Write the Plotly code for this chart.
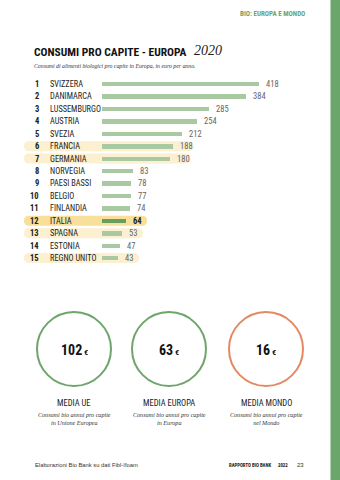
import plotly.graph_objects as go

W, H = 340, 480

ranks = list(range(1, 16))
countries = ["SVIZZERA", "DANIMARCA", "LUSSEMBURGO", "AUSTRIA", "SVEZIA", "FRANCIA",
             "GERMANIA", "NORVEGIA", "PAESI BASSI", "BELGIO", "FINLANDIA", "ITALIA",
             "SPAGNA", "ESTONIA", "REGNO UNITO"]
values = [418, 384, 285, 254, 212, 188, 180, 83, 78, 77, 74, 64, 53, 47, 43]
highlight = ["", "", "", "", "", "light", "light", "", "", "", "", "strong", "light", "", "light"]

avg_values = ["102", "63", "16"]
avg_titles = ["MEDIA UE", "MEDIA EUROPA", "MEDIA MONDO"]
avg_desc = ["Consumi bio annui pro capite<br>in Unione Europea",
            "Consumi bio annui pro capite<br>in Europa",
            "Consumi bio annui pro capite<br>nel Mondo"]
avg_colors = ["#6fa56c", "#6fa56c", "#e38a63"]

COND = "Roboto Condensed, Liberation Sans Narrow, DejaVu Sans Condensed, sans-serif"
SERIF = "Liberation Serif, DejaVu Serif, serif"
GREEN = "#6aa56a"

x0px = 102
px_per_unit = 0.3756
row_top_px = 84
row_step = 12.43
y_top = 1 - (row_top_px - row_step / 2) / H
y_bot = 1 - (row_top_px + 14 * row_step + row_step / 2) / H
x_range_max = (W - x0px) / px_per_unit

def px(x):
    return x / W

def py(y):
    return 1 - y / H

bar_colors = ["#6a9e5e" if h == "strong" else "#a9c9a2" for h in highlight]

fig = go.Figure()
fig.add_trace(go.Bar(
    y=ranks, x=values, orientation="h", width=0.36,
    marker=dict(color=bar_colors, line=dict(width=0)),
    hoverinfo="skip",
))

shapes = []
annotations = []

for r, v, h in zip(ranks, values, highlight):
    if h:
        xl = px(24)
        xr = px(x0px + v * px_per_unit + 21)
        hh = 5.0 / row_step
        rx = px(5)
        yt, yb = r - hh, r + hh
        path = (f"M {xl+rx},{yt} L {xr-rx},{yt} Q {xr},{yt} {xr},{r} Q {xr},{yb} {xr-rx},{yb} "
                f"L {xl+rx},{yb} Q {xl},{yb} {xl},{r} Q {xl},{yt} {xl+rx},{yt} Z")
        shapes.append(dict(type="path", path=path, xref="paper", yref="y",
                           fillcolor="#f8e09a" if h == "strong" else "#fcf0d0",
                           line=dict(width=0), layer="below"))
    annotations.append(dict(x=v, y=r, xref="x", yref="y", xshift=5,
                            text=f"<b>{v}</b>" if h == "strong" else str(v),
                            showarrow=False, xanchor="left", yanchor="middle",
                            font=dict(size=8.5, family=COND,
                                      color="#222" if h == "strong" else "#666")))

for r, c in zip(ranks, countries):
    annotations.append(dict(x=px(40.5), y=r, xref="paper", yref="y", text=f"<b>{r}</b>",
                            showarrow=False, xanchor="right", yanchor="middle",
                            font=dict(size=8.5, family=COND, color="#222")))
    annotations.append(dict(x=px(48), y=r, xref="paper", yref="y", text=c,
                            showarrow=False, xanchor="left", yanchor="middle",
                            font=dict(size=8.3, family=COND, color="#222")))

shapes.append(dict(type="rect", xref="paper", yref="paper", x0=px(330.5), x1=1, y0=0, y1=1,
                   fillcolor=GREEN, line=dict(width=0)))

annotations.append(dict(x=px(307), y=py(14), xref="paper", yref="paper",
                        text="<b>BIO: EUROPA E MONDO</b>", showarrow=False,
                        xanchor="right", yanchor="middle",
                        font=dict(size=7, family=COND, color=GREEN)))
annotations.append(dict(x=px(32), y=py(52), xref="paper", yref="paper",
                        text="<b>CONSUMI PRO CAPITE - EUROPA</b>", showarrow=False,
                        xanchor="left", yanchor="middle",
                        font=dict(size=11.5, family=COND, color="#111")))
annotations.append(dict(x=px(192), y=py(51), xref="paper", yref="paper",
                        text="<i>2020</i>", showarrow=False,
                        xanchor="left", yanchor="middle",
                        font=dict(size=14, family=SERIF, color="#222")))
annotations.append(dict(x=px(32), y=py(66), xref="paper", yref="paper",
                        text="<i>Consumi di alimenti biologici pro capite in Europa, in euro per anno.</i>",
                        showarrow=False, xanchor="left", yanchor="middle",
                        font=dict(size=5.8, family=SERIF, color="#333")))

centers = [74, 169, 266]
cy, rad = 349, 37
for cx, val, t, d, col in zip(centers, avg_values, avg_titles, avg_desc, avg_colors):
    shapes.append(dict(type="circle", xref="paper", yref="paper",
                       x0=px(cx - rad), x1=px(cx + rad), y0=py(cy + rad), y1=py(cy - rad),
                       line=dict(color=col, width=2), fillcolor="rgba(0,0,0,0)"))
    annotations.append(dict(x=px(cx), y=py(cy + 1), xref="paper", yref="paper",
                            text=f"<b>{val}<span style='font-size:8px'> €</span></b>",
                            showarrow=False, xanchor="center", yanchor="middle",
                            font=dict(size=14, family=COND, color="#111")))
    annotations.append(dict(x=px(cx), y=py(403), xref="paper", yref="paper",
                            text=t, showarrow=False, xanchor="center", yanchor="middle",
                            font=dict(size=8.5, family=COND, color="#222")))
    annotations.append(dict(x=px(cx), y=py(419), xref="paper", yref="paper",
                            text=f"<i>{d}</i>", showarrow=False, xanchor="center",
                            yanchor="middle", align="center",
                            font=dict(size=6.1, family=SERIF, color="#333")))

annotations.append(dict(x=px(33), y=py(465), xref="paper", yref="paper",
                        text="Elaborazioni Bio Bank su dati Fibl-Ifoam", showarrow=False,
                        xanchor="left", yanchor="middle",
                        font=dict(size=5.8, family="Liberation Sans, Arial, sans-serif", color="#333")))
annotations.append(dict(x=px(227), y=py(465), xref="paper", yref="paper",
                        text="<b>RAPPORTO BIO BANK</b>", showarrow=False,
                        xanchor="left", yanchor="middle",
                        font=dict(size=4.8, family=COND, color="#222")))
annotations.append(dict(x=px(276), y=py(465), xref="paper", yref="paper",
                        text="<b>2022</b>", showarrow=False,
                        xanchor="left", yanchor="middle",
                        font=dict(size=4.8, family=COND, color="#222")))
annotations.append(dict(x=px(306), y=py(465), xref="paper", yref="paper",
                        text="23", showarrow=False,
                        xanchor="right", yanchor="middle",
                        font=dict(size=6, family="Liberation Sans, Arial, sans-serif", color="#333")))

fig.update_layout(
    width=W, height=H, margin=dict(l=0, r=0, t=0, b=0),
    paper_bgcolor="white", plot_bgcolor="rgba(0,0,0,0)",
    showlegend=False, shapes=shapes, annotations=annotations,
    xaxis=dict(domain=[px(x0px), 1], range=[0, x_range_max], visible=False, fixedrange=True),
    yaxis=dict(domain=[y_bot, y_top], range=[15.5, 0.5], visible=False, fixedrange=True),
    bargap=0,
)

fig.write_html("out.html", config={"displayModeBar": False})
